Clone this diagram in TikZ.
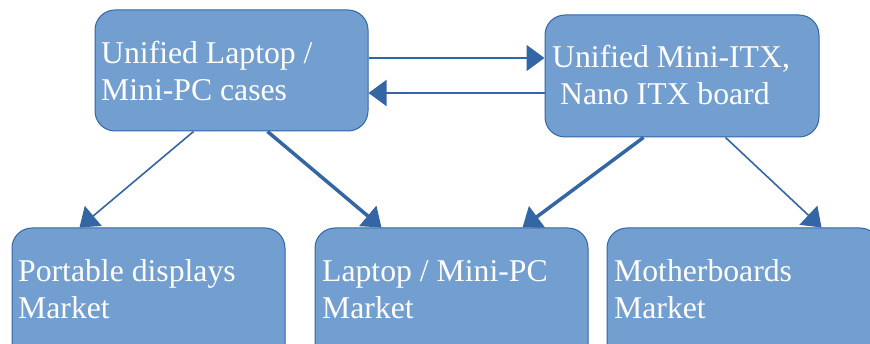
\documentclass[tikz,border=0pt]{standalone}
\usepackage{fontspec}
\setmainfont{Liberation Serif}
\usetikzlibrary{arrows.meta}
\definecolor{boxfill}{HTML}{729FCF}
\definecolor{boxline}{HTML}{3465A4}
\begin{document}
\begin{tikzpicture}[x=1pt,y=-1pt,
  box/.style={draw=boxline, line width=1pt, fill=boxfill, rounded corners=20pt, inner sep=0pt},
  txt/.style={text=white, font=\fontsize{31.7}{37}\selectfont, align=left, inner sep=0pt, anchor=base west},
  conthin/.style={draw=boxline, line width=1.6pt, -{Triangle[length=18pt,width=26pt]}},
  conthick/.style={draw=boxline, line width=3.5pt, -{Triangle[length=18pt,width=26pt]}}]
\useasboundingbox (0,0) rectangle (870,344);
\clip (0,0) rectangle (870,344);
\node[box, minimum width=273pt, minimum height=121pt] (a) at (231.5,70.5) {};
\node[box, minimum width=274pt, minimum height=122pt] (b) at (682,76) {};
\node[box, minimum width=273pt, minimum height=142pt] (c) at (148.5,299) {};
\node[box, minimum width=273pt, minimum height=142pt] (d) at (451.5,299) {};
\node[box, minimum width=273pt, minimum height=142pt] (e) at (743.5,299) {};
\node[txt] (ta) at (101,101) {Unified Laptop /\\Mini-PC cases};
\node[txt] (tb) at (552,105) {Unified Mini-ITX,\\\hspace*{0.25em}Nano ITX board};
\node[txt] (tc) at (18,319) {Portable displays\\Market};
\node[txt] (td) at (322,319) {Laptop / Mini-PC\\Market};
\node[txt] (te) at (614,319) {Motherboards\\Market};
\draw[conthin] ([yshift=12.5pt]a.east) -- ([yshift=18pt]b.west);
\draw[conthin] ([yshift=-17pt]b.west) -- ([yshift=-22.5pt]a.east);
\draw[conthin] ([xshift=99pt]a.south west) -- ([xshift=68pt]c.north west);
\draw[conthick] ([xshift=173pt]a.south west) -- ([xshift=67pt]d.north west);
\draw[conthick] ([xshift=99pt]b.south west) -- ([xshift=208pt]d.north west);
\draw[conthin] ([xshift=181pt]b.south west) -- ([xshift=215pt]e.north west);
\end{tikzpicture}
\end{document}
